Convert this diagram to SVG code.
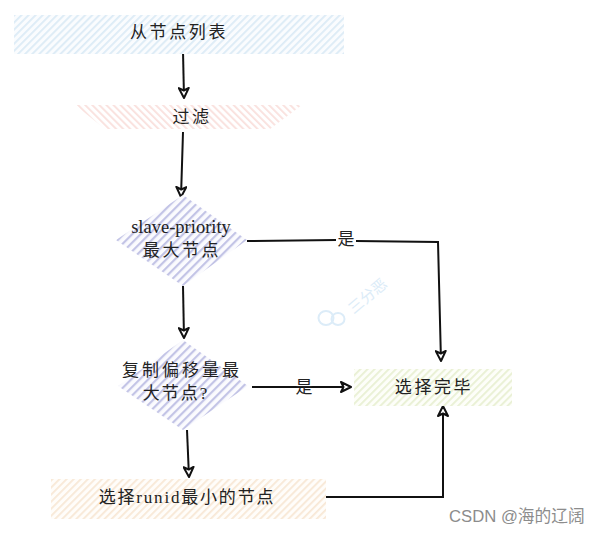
<svg xmlns="http://www.w3.org/2000/svg" width="600" height="534" viewBox="0 0 600 534">
<style>
.t{font-family:"Liberation Serif","Noto Sans CJK SC",serif;font-size:17px;fill:#222;text-anchor:middle}
.c{fill:none;stroke:#111;stroke-width:2}
.a{fill:none;stroke:#111;stroke-width:2;marker-end:url(#arr)}
</style>
<defs>
<marker id="arr" viewBox="0 0 12 12" refX="11" refY="6" markerWidth="12" markerHeight="12" markerUnits="userSpaceOnUse" orient="auto"><path d="M1 1 L11 6 L1 11 L3.5 6 Z" fill="#fff" stroke="#111" stroke-width="2" stroke-linejoin="round"/></marker>
<pattern id="hb" width="5" height="5" patternUnits="userSpaceOnUse" patternTransform="rotate(45)"><rect width="5" height="5" fill="#fafcfe"/><rect width="1.8" height="5" fill="#dcebf6"/></pattern>
<pattern id="hr" width="5" height="5" patternUnits="userSpaceOnUse" patternTransform="rotate(-45)"><rect width="5" height="5" fill="#fff"/><rect width="1.8" height="5" fill="#fae0dd"/></pattern>
<pattern id="hp" width="6" height="6" patternUnits="userSpaceOnUse" patternTransform="rotate(45)"><rect width="6" height="6" fill="#fbfbfe"/><rect width="2.2" height="6" fill="#c3c4e6"/></pattern>
<pattern id="hg" width="5" height="5" patternUnits="userSpaceOnUse" patternTransform="rotate(45)"><rect width="5" height="5" fill="#fdfef9"/><rect width="1.8" height="5" fill="#e9f0d3"/></pattern>
<pattern id="ho" width="5" height="5" patternUnits="userSpaceOnUse" patternTransform="rotate(45)"><rect width="5" height="5" fill="#fffdfa"/><rect width="1.8" height="5" fill="#f8e8d6"/></pattern>
</defs>
<rect width="600" height="534" fill="#fff"/>
<g id="watermark" fill="none" stroke="#dcecf8" stroke-width="2">
<ellipse cx="326" cy="318" rx="7.5" ry="7"/>
<ellipse cx="338" cy="319" rx="6.5" ry="6"/>
<text transform="translate(371 300) rotate(-40)" font-family="'Noto Sans CJK SC',sans-serif" font-size="15" fill="#dcecf8" stroke="none" text-anchor="middle">三分恶</text>
</g>
<g id="connectors">
<path class="a" d="M183 51 L184 98"/>
<path class="a" d="M183 132 L181 197"/>
<path class="a" d="M183 286 L184 338"/>
<path class="c" d="M247 241 L336 240"/>
<path class="a" d="M356 241 L438 242 L441 361"/>
<path class="a" d="M252 387 L351 387"/>
<path class="a" d="M187 430 L189 477"/>
<path class="a" d="M326 497 L443 497 L443 406"/>
</g>
<g id="n1"><rect x="14" y="15" width="330" height="39" fill="url(#hb)"/><text class="t" x="179" y="38" letter-spacing="2.6">从节点列表</text></g>
<g id="n2"><path d="M75 105 L302 105 L270 129 L105 129 Z" fill="url(#hr)"/><text class="t" x="192" y="123" letter-spacing="2.6">过滤</text></g>
<g id="n3"><path d="M183 195 L247 240 L183 286 L116 240 Z" fill="url(#hp)"/><text class="t" x="181" y="233" style="font-size:18.5px">slave-priority</text><text class="t" x="182" y="256" letter-spacing="2.6">最大节点</text></g>
<g id="n4"><path d="M183 340 L248 386 L183 430 L118 386 Z" fill="url(#hp)"/><text class="t" x="182" y="376" letter-spacing="3">复制偏移量最</text><text class="t" x="176" y="399" letter-spacing="2">大节点?</text></g>
<g id="n5"><rect x="354" y="369" width="158" height="37" fill="url(#hg)"/><text class="t" x="434" y="393" letter-spacing="2.6">选择完毕</text></g>
<g id="n6"><rect x="51" y="479" width="275" height="40" fill="url(#ho)"/><text class="t" x="187" y="503" letter-spacing="1.8">选择runid最小的节点</text></g>
<g id="edge-labels">
<text class="t" x="346" y="245">是</text>
<text class="t" x="304" y="393">是</text>
</g>
<text id="credit" x="449" y="522" font-family="'Liberation Sans','Noto Sans CJK SC',sans-serif" font-size="16.7" fill="#8c8c8c">CSDN @海的辽阔</text>
</svg>
